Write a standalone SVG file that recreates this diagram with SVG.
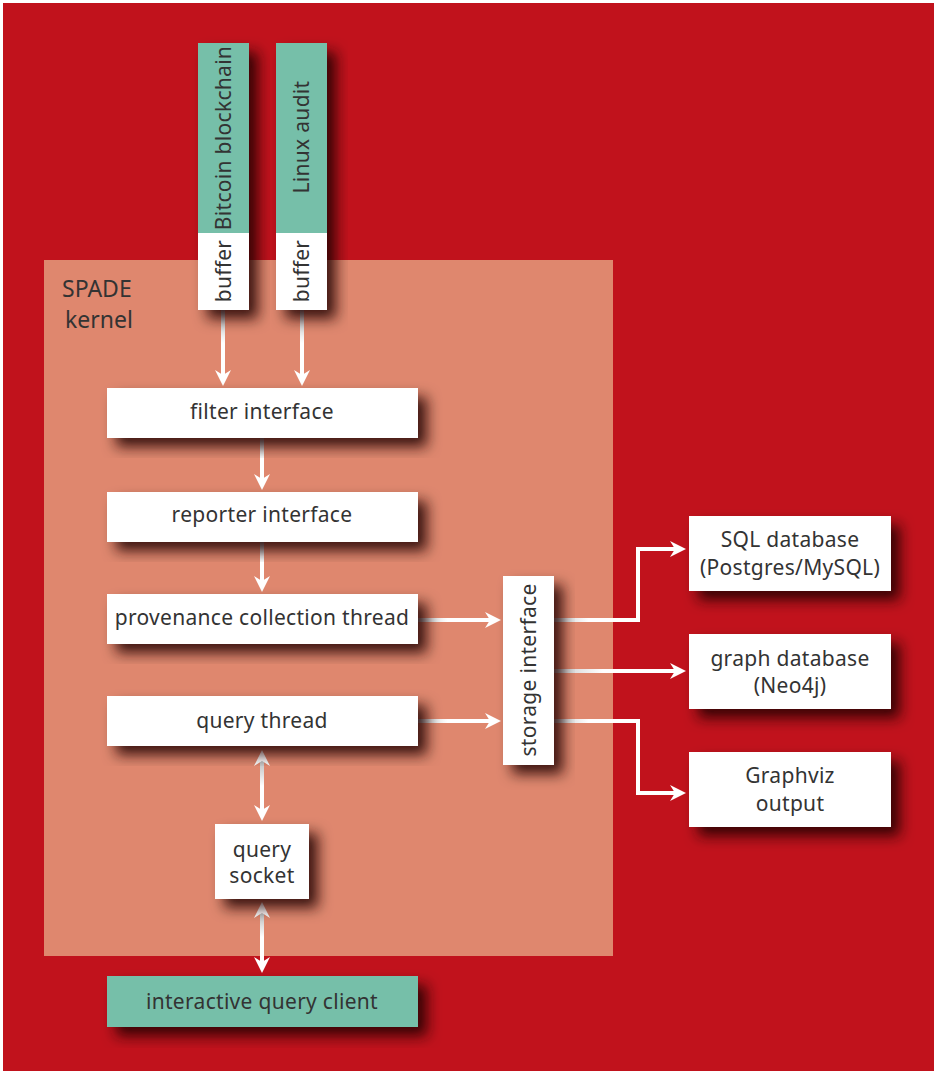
<svg xmlns="http://www.w3.org/2000/svg" width="938" height="1071" viewBox="0 0 938 1071">
<style>
.t{font-family:"Noto Sans","Open Sans",sans-serif;font-size:21px;letter-spacing:0.3px;fill:#333;text-anchor:middle}
.k{font-family:"Noto Sans","Open Sans",sans-serif;font-size:23px;fill:#333}
.w{fill:#fff}
.g{fill:#76BFA9}
.ah{fill:#fff}
</style>
<defs>
<filter id="sh" x="-30%" y="-30%" width="170%" height="170%">
<feDropShadow dx="9" dy="9" stdDeviation="7" flood-color="#200000" flood-opacity="0.85"/>
</filter>
<linearGradient id="gv" x1="0" y1="0" x2="0" y2="1">
<stop offset="0" stop-color="#b5b5b5"/><stop offset="0.5" stop-color="#fff"/></linearGradient>
<linearGradient id="gh" x1="0" y1="0" x2="1" y2="0">
<stop offset="0" stop-color="#c8c8c8"/><stop offset="0.4" stop-color="#fff"/></linearGradient>
</defs>
<rect x="3" y="3" width="931" height="1068" fill="#C1121C"/>
<rect x="44" y="260" width="569" height="696" fill="#DF876E"/>
<text class="k" x="62" y="297">SPADE</text>
<text class="k" x="65" y="328">kernel</text>

<g id="connectors">
<rect x="221" y="310" width="4" height="66" fill="url(#gv)"/>
<polygon class="ah" points="223,386 215,370 223,375 231,370"/>
<rect x="300" y="310" width="4" height="66" fill="url(#gv)"/>
<polygon class="ah" points="302,386 294,370 302,375 310,370"/>
<rect x="260" y="438" width="4" height="42" fill="url(#gv)"/>
<polygon class="ah" points="262,490 254,474 262,479 270,474"/>
<rect x="260" y="542" width="4" height="40" fill="url(#gv)"/>
<polygon class="ah" points="262,592 254,576 262,581 270,576"/>
<rect x="418" y="618" width="74" height="4" fill="url(#gh)"/>
<polygon class="ah" points="501,620 485,612 490,620 485,628"/>
<rect x="418" y="719" width="74" height="4" fill="url(#gh)"/>
<polygon class="ah" points="501,721 485,713 490,721 485,729"/>
<rect x="554" y="618" width="86" height="4" fill="url(#gh)"/>
<path d="M638,620 V549 H676" fill="none" stroke="#fff" stroke-width="4"/>
<polygon class="ah" points="686,549 670,541 675,549 670,557"/>
<rect x="554" y="669" width="122" height="4" fill="url(#gh)"/>
<polygon class="ah" points="686,671 670,663 675,671 670,679"/>
<rect x="554" y="719" width="86" height="4" fill="url(#gh)"/>
<path d="M638,721 V793 H676" fill="none" stroke="#fff" stroke-width="4"/>
<polygon class="ah" points="686,793 670,785 675,793 670,801"/>
<rect x="260" y="758" width="4" height="56" fill="url(#gv)"/>
<polygon class="ah" points="262,750 254,766 262,761 270,766"/>
<polygon class="ah" points="262,821 254,805 262,810 270,805"/>
<rect x="260" y="910" width="4" height="54" fill="url(#gv)"/>
<polygon class="ah" points="262,902 254,918 262,913 270,918"/>
<polygon class="ah" points="262,973 254,957 262,962 270,957"/>
</g>

<g id="bitcoin" filter="url(#sh)">
<rect class="g" x="198" y="43" width="51" height="190"/>
<rect class="w" x="198" y="233" width="51" height="77"/>
</g>
<text class="t" transform="translate(231,138) rotate(-90)">Bitcoin blockchain</text>
<text class="t" transform="translate(231,271) rotate(-90)">buffer</text>
<g id="linux" filter="url(#sh)">
<rect class="g" x="276" y="43" width="51" height="190"/>
<rect class="w" x="276" y="233" width="51" height="77"/>
</g>
<text class="t" transform="translate(309,137) rotate(-90)">Linux audit</text>
<text class="t" transform="translate(309,271) rotate(-90)">buffer</text>

<g id="filter"><rect class="w" x="107" y="388" width="311" height="50" filter="url(#sh)"/><text class="t" x="262" y="419">filter interface</text></g>
<g id="reporter"><rect class="w" x="107" y="492" width="311" height="50" filter="url(#sh)"/><text class="t" x="262" y="522">reporter interface</text></g>
<g id="provenance"><rect class="w" x="107" y="594" width="311" height="50" filter="url(#sh)"/><text class="t" x="262" y="625">provenance collection thread</text></g>
<g id="querythread"><rect class="w" x="107" y="696" width="311" height="50" filter="url(#sh)"/><text class="t" x="262" y="728">query thread</text></g>
<g id="storage"><rect class="w" x="503" y="576" width="51" height="189" filter="url(#sh)"/><text class="t" transform="translate(536,670) rotate(-90)">storage interface</text></g>
<g id="sql"><rect class="w" x="689" y="516" width="202" height="75" filter="url(#sh)"/><text class="t" x="790" y="547">SQL database</text><text class="t" x="790" y="575">(Postgres/MySQL)</text></g>
<g id="graphdb"><rect class="w" x="689" y="634" width="202" height="75" filter="url(#sh)"/><text class="t" x="790" y="666">graph database</text><text class="t" x="790" y="693">(Neo4j)</text></g>
<g id="graphviz"><rect class="w" x="689" y="752" width="202" height="75" filter="url(#sh)"/><text class="t" x="790" y="783">Graphviz</text><text class="t" x="790" y="811">output</text></g>
<g id="socket"><rect class="w" x="215" y="824" width="94" height="75" filter="url(#sh)"/><text class="t" x="262" y="857">query</text><text class="t" x="262" y="883">socket</text></g>
<g id="client"><rect class="g" x="107" y="976" width="311" height="51" filter="url(#sh)"/><text class="t" x="262" y="1009">interactive query client</text></g>
</svg>
